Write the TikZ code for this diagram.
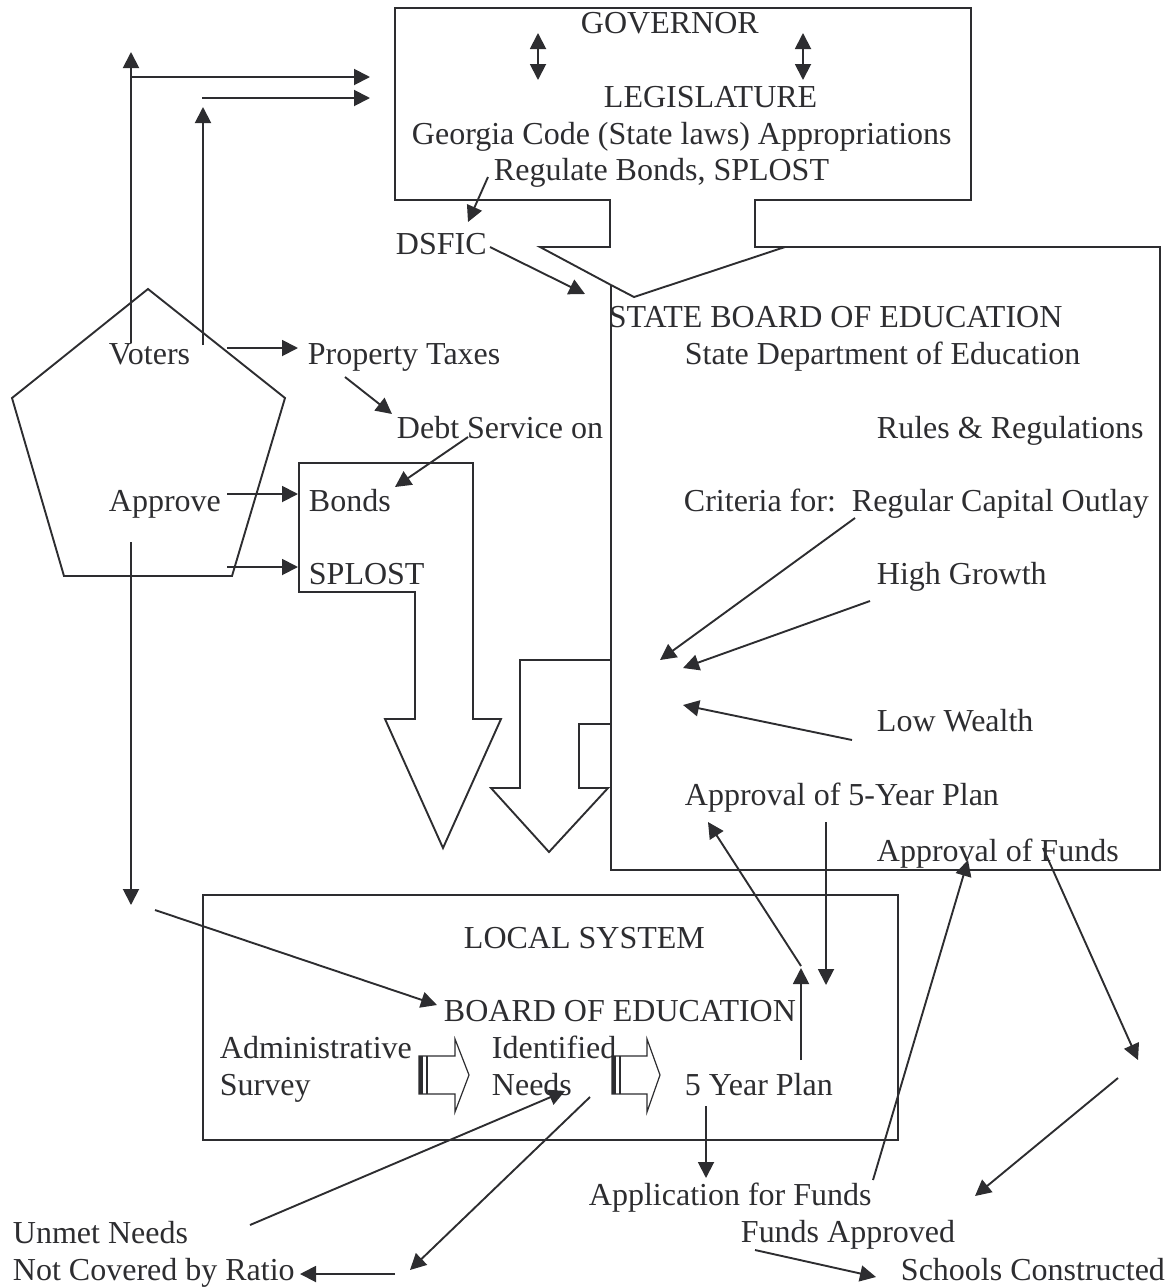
\documentclass[tikz,border=0pt]{standalone}
\usepackage{fontspec}
\setmainfont{Liberation Serif}
\usetikzlibrary{arrows.meta}
\definecolor{ink}{RGB}{45,45,48}
\begin{document}
\begin{tikzpicture}[x=1pt,y=-1pt,line width=1.9pt,
  lbl/.style={anchor=base west,inner sep=0pt,font=\fontsize{32}{37}\selectfont,text=ink},
  arr/.style={draw=ink,-{Triangle[length=16pt,width=16pt]}},
  darr/.style={draw=ink,{Triangle[length=16pt,width=16pt]}-{Triangle[length=16pt,width=16pt]}},
  outline/.style={draw=ink,line width=1.9pt,line join=miter},
  stripe/.style={draw=ink}]
\useasboundingbox (0,0) rectangle (1169,1288);

% ---------- Governor box + big arrow + state board ----------
\draw[outline] (611,285) -- (540,247) -- (610,247) -- (610,200) -- (395,200) -- (395,8)
  -- (971,8) -- (971,200) -- (755,200) -- (755,247) -- (1160,247) -- (1160,870) -- (611,870) -- (611,285);
\draw[outline] (611,285) -- (634,297) -- (785,247);

% ---------- pentagon ----------
\draw[outline] (148,289) -- (285,398) -- (232,576) -- (64,576) -- (12,398) -- cycle;

% ---------- block arrow Bonds / SPLOST ----------
\draw[outline] (299,463) -- (473,463) -- (473,719) -- (501,719) -- (443,848) -- (385,719)
  -- (415,719) -- (415,592) -- (299,592) -- cycle;

% ---------- block arrow from state board ----------
\draw[outline] (611,660) -- (520,660) -- (520,788) -- (491,788) -- (549,852) -- (608,788)
  -- (579,788) -- (579,724) -- (611,724);

% ---------- local system box ----------
\draw[outline] (203,895) rectangle (898,1140);

% striped block arrows
\draw[stripe,line width=1.2pt,line join=miter] (419,1056) -- (455,1056) -- (455,1039) -- (469,1075) -- (455,1112) -- (455,1094) -- (419,1094) -- cycle;
\draw[stripe,line width=4pt] (421,1056) -- (421,1094);
\draw[stripe,line width=1.2pt] (427,1056) -- (427,1094);
\draw[stripe,line width=1.2pt,line join=miter] (612,1056) -- (647,1056) -- (647,1039) -- (660,1075) -- (647,1112) -- (647,1094) -- (612,1094) -- cycle;
\draw[stripe,line width=4pt] (614,1056) -- (614,1094);
\draw[stripe,line width=1.2pt] (620,1056) -- (620,1094);

% ---------- texts ----------
\node[lbl] (gov) at (580,33) {GOVERNOR};
\node[lbl] (leg) at (603,107) {LEGISLATURE};
\node[lbl] (code) at (411,144) {Georgia Code (State laws) Appropriations};
\node[lbl] (reg) at (493,180) {Regulate Bonds, SPLOST};
\node[lbl] (dsfic) at (395,254) {DSFIC};
\node[lbl] (sbe) at (608,327) {STATE BOARD OF EDUCATION};
\node[lbl] (sde) at (684,364) {State Department of Education};
\node[lbl] (voters) at (108,364) {Voters};
\node[lbl] (ptax) at (307,364) {Property Taxes};
\node[lbl] (debt) at (396,438) {Debt Service on};
\node[lbl] (rules) at (876,438) {Rules \& Regulations};
\node[lbl] (approve) at (108,511) {Approve};
\node[lbl] (bonds) at (308,511) {Bonds};
\node[lbl] (crit) at (683,511) {Criteria for:\ \ Regular Capital Outlay};
\node[lbl] (splost) at (308,584) {SPLOST};
\node[lbl] (high) at (876,584) {High Growth};
\node[lbl] (low) at (876,731) {Low Wealth};
\node[lbl] (ap5) at (684,805) {Approval of 5-Year Plan};
\node[lbl] (apf) at (876,861) {Approval of Funds};
\node[lbl] (local) at (463,948) {LOCAL SYSTEM};
\node[lbl] (boe) at (443,1021) {BOARD OF EDUCATION};
\node[lbl] (adm) at (219,1058) {Administrative};
\node[lbl] (surv) at (219,1095) {Survey};
\node[lbl] (ident) at (491,1058) {Identified};
\node[lbl] (needs) at (491,1095) {Needs};
\node[lbl] (plan) at (684,1095) {5 Year Plan};
\node[lbl] (appl) at (588,1205) {Application for Funds};
\node[lbl] (fapp) at (740,1242) {Funds Approved};
\node[lbl] (unmet) at (12,1243) {Unmet Needs};
\node[lbl] (notcov) at (12,1280) {Not Covered by Ratio};
\node[lbl] (schools) at (900,1280) {Schools Constructed};

% ---------- connector end points ----------
\coordinate (v1a) at (131,343); \coordinate (v1b) at (131,52);
\coordinate (h1a) at (131,77);  \coordinate (h1b) at (370,77);
\coordinate (v2a) at (203,345); \coordinate (v2b) at (203,107);
\coordinate (h2a) at (202,98);  \coordinate (h2b) at (370,98);
\coordinate (g1a) at (538,33);  \coordinate (g1b) at (538,80);
\coordinate (g2a) at (803,33);  \coordinate (g2b) at (803,80);
\coordinate (vp1) at (227,348); \coordinate (vp2) at (298,348);
\coordinate (ab1) at (227,494); \coordinate (ab2) at (298,494);
\coordinate (as1) at (227,567); \coordinate (as2) at (298,567);
\coordinate (ad1) at (131,542); \coordinate (ad2) at (131,905);
\coordinate (lb1) at (155,910); \coordinate (lb2) at (437,1005);
\coordinate (rd1) at (488,177); \coordinate (rd2) at (468,222);
\coordinate (ds1) at (490,247); \coordinate (ds2) at (585,294);
\coordinate (pd1) at (345,377); \coordinate (pd2) at (392,414);
\coordinate (db1) at (468,437); \coordinate (db2) at (395,487);
\coordinate (rc1) at (855,518); \coordinate (rc2) at (660,660);
\coordinate (hg1) at (870,601); \coordinate (hg2) at (683,668);
\coordinate (lw1) at (852,740); \coordinate (lw2) at (683,705);
\coordinate (pu1) at (801,1060); \coordinate (pu2) at (801,968);
\coordinate (pa1) at (801,966); \coordinate (pa2) at (708,822);
\coordinate (pd3) at (826,822); \coordinate (pd4) at (826,985);
\coordinate (af1) at (706,1106); \coordinate (af2) at (706,1178);
\coordinate (fa1) at (873,1180); \coordinate (fa2) at (968,860);
\coordinate (fb1) at (1043,848); \coordinate (fb2) at (1138,1060);
\coordinate (fc1) at (1118,1078); \coordinate (fc2) at (975,1196);
\coordinate (sc1) at (755,1250); \coordinate (sc2) at (876,1277);
\coordinate (un1) at (250,1225); \coordinate (un2) at (565,1091);
\coordinate (nr1) at (590,1097); \coordinate (nr2) at (410,1270);
\coordinate (nc1) at (395,1274); \coordinate (nc2) at (300,1274);

% ---------- connectors ----------
\draw[arr] (v1a) -- (v1b);
\draw[arr] (h1a) -- (h1b);
\draw[arr] (v2a) -- (v2b);
\draw[arr] (h2a) -- (h2b);
\draw[darr] (g1a) -- (g1b);
\draw[darr] (g2a) -- (g2b);
\draw[arr] (vp1) -- (vp2);
\draw[arr] (ab1) -- (ab2);
\draw[arr] (as1) -- (as2);
\draw[arr] (ad1) -- (ad2);
\draw[arr] (lb1) -- (lb2);
\draw[arr] (rd1) -- (rd2);
\draw[arr] (ds1) -- (ds2);
\draw[arr] (pd1) -- (pd2);
\draw[arr] (db1) -- (db2);
\draw[arr] (rc1) -- (rc2);
\draw[arr] (hg1) -- (hg2);
\draw[arr] (lw1) -- (lw2);
\draw[arr] (pu1) -- (pu2);
\draw[arr] (pa1) -- (pa2);
\draw[arr] (pd3) -- (pd4);
\draw[arr] (af1) -- (af2);
\draw[arr] (fa1) -- (fa2);
\draw[arr] (fb1) -- (fb2);
\draw[arr] (fc1) -- (fc2);
\draw[arr] (sc1) -- (sc2);
\draw[arr] (un1) -- (un2);
\draw[arr] (nr1) -- (nr2);
\draw[arr] (nc1) -- (nc2);
\end{tikzpicture}
\end{document}
